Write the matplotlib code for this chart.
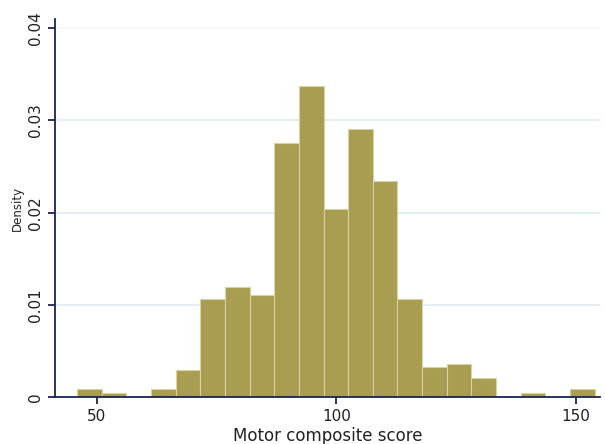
import numpy as np
import matplotlib.pyplot as plt

# histogram of motor composite score (density scale)
bin_start = 45.9
bin_width = 5.14
density = [0.00087, 0.00043, 0.0, 0.00087, 0.00293, 0.01065, 0.01189,
           0.01102, 0.02755, 0.0337, 0.02044, 0.0291, 0.0234, 0.01062,
           0.00328, 0.00358, 0.00206, 0.0, 0.00043, 0.0, 0.00087]
x_ticks = [50, 100, 150]
y_ticks = [0, 0.01, 0.02, 0.03, 0.04]

edges = bin_start + bin_width * np.arange(len(density))

bar_col = '#a89d50'
axis_col = '#1c2350'

fig = plt.figure(figsize=(6.05, 4.44), dpi=100)
ax = fig.add_axes([0.0909, 0.1059, 0.9011, 0.8511])

# grid lines (top one barely visible)
for y in y_ticks[1:4]:
    ax.axhline(y, color='#e4eff3', linewidth=1.4, zorder=0)
ax.axhline(y_ticks[4], color='#f3f6f7', linewidth=1.2, zorder=0)

ax.bar(edges, density, width=bin_width, align='edge', color=bar_col,
       edgecolor='#d9d3a3', linewidth=0.8, zorder=2)

ax.set_xlim(41.3, 155)
ax.set_ylim(0, 0.041)
ax.set_xticks(x_ticks)
ax.set_yticks(y_ticks)
ax.set_yticklabels(['0', '0.01', '0.02', '0.03', '0.04'], rotation=90, va='center')

for s in ['top', 'right']:
    ax.spines[s].set_visible(False)
for s in ['left', 'bottom']:
    ax.spines[s].set_color(axis_col)
    ax.spines[s].set_linewidth(1.3)
ax.tick_params(colors=axis_col, width=1.3, length=5, labelcolor='#222222',
               labelsize=11)

ax.set_xlabel('Motor composite score', fontsize=12, color='#222222', labelpad=2)
ax.set_ylabel('Density', fontsize=8.5, color='#222222', labelpad=3)

fig.savefig('out.png', dpi=100)
